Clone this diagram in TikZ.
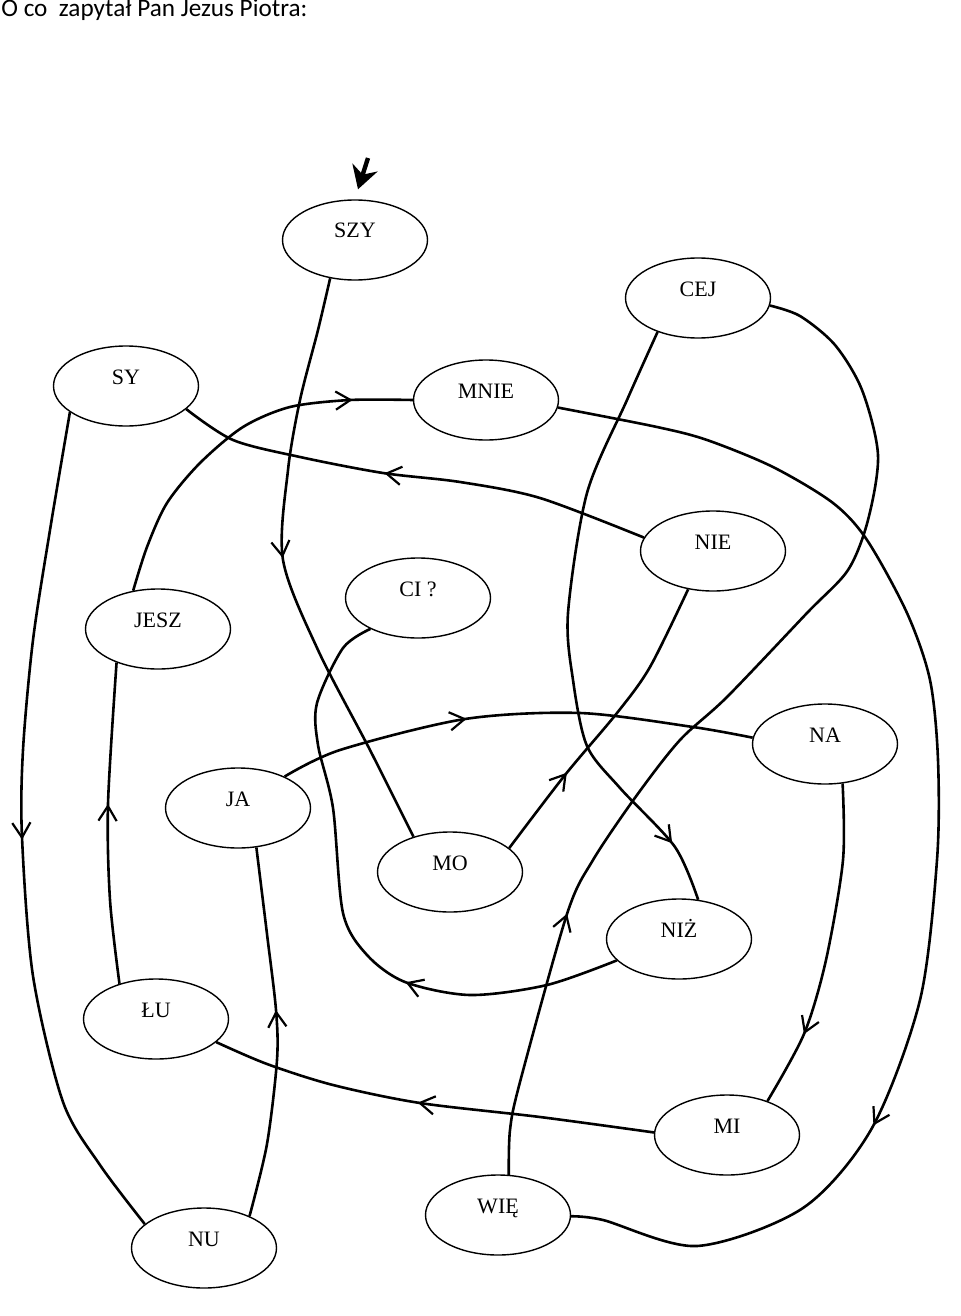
\documentclass[tikz,border=0pt]{standalone}
\usepackage{fontspec}
\setmainfont{Liberation Serif}
\newfontfamily\titlefont{Carlito}
\usetikzlibrary{arrows.meta,decorations.markings,shapes.geometric}
\tikzset{
    every node/.style={font=\fontsize{11}{13}\selectfont},
    syl/.style={ellipse,draw,line width=0.7pt,minimum width=72.5pt,minimum height=40pt,
        inner sep=0pt,text height=6pt,text depth=8pt},
    wire/.style={line width=1.3pt},
    midarrow/.style={postaction={decorate},decoration={markings,
        mark=at position #1 with {\arrow{Straight Barb[length=2.6mm,width=3.2mm,line width=1.1pt]}}}},
    startarrow/.style={line width=2.2pt,-{Stealth[length=4mm,width=4.6mm]}}
}
\begin{document}
\begin{tikzpicture}[x=0.5pt,y=-0.5pt]
\useasboundingbox (0,0) rectangle (960,1316);
\node[anchor=base west,inner sep=0pt,font=\titlefont\fontsize{12.6}{14}\selectfont] (title) at (1,17)
    {O co~ zapytał Pan Jezus Piotra:};

% syllables
\node[syl] (szy) at (355,240) {SZY};
\node[syl] (cej) at (698,298) {CEJ};
\node[syl] (sy) at (126,386) {SY};
\node[syl] (mnie) at (486,400) {MNIE};
\node[syl] (nie) at (713,551) {NIE};
\node[syl] (ci) at (418,598) {CI ?};
\node[syl] (jesz) at (158,629) {JESZ};
\node[syl] (na) at (825,744) {NA};
\node[syl] (ja) at (238,808) {JA};
\node[syl] (mo) at (450,872) {MO};
\node[syl] (niz) at (679,939) {NIŻ};
\node[syl] (lu) at (156,1019) {ŁU};
\node[syl] (mi) at (727,1135) {MI};
\node[syl] (wie) at (498,1215) {WIĘ};
\node[syl] (nu) at (204,1248) {NU};

% start
\coordinate (entry) at (368,158);
\draw[startarrow] (entry) -- ([xshift=1.5pt,yshift=5pt]szy.north);

% the way through the maze
\draw[wire,midarrow=0.48] plot[smooth] coordinates {(szy.-123) (318,330) (300,400) (288,470) (283,560) (318,650) (370,750) (mo.136)};
\draw[wire,midarrow=0.30] plot[smooth] coordinates {(mo.22) (565,775) (617,713) (650,667) (nie.-123)};
\draw[wire,midarrow=0.56] plot[smooth] coordinates {(nie.169) (540,498) (460,482) (383,473) (300,457) (233,440) (sy.-21)};
\draw[wire,midarrow=0.51] plot[smooth] coordinates {(sy.-155) (50,530) (33,640) (23,750) (22,837) (33,976) (63,1102) (100,1165) (nu.158)};
\draw[wire,midarrow=0.56] plot[smooth] coordinates {(nu.35) (267,1144) (277,1060) (276,1010) (267,934) (ja.-65)};
\draw[wire,midarrow=0.40] plot[smooth] coordinates {(ja.34) (340,750) (465,719) (580,713) (693,727) (na.175)};
\draw[wire,midarrow=0.77] plot[smooth] coordinates {(na.-66) (843,860) (826,960) (804,1034) (mi.40)};
\draw[wire,midarrow=0.53] plot[smooth] coordinates {(mi.178) (540,1117) (420,1103) (333,1085) (267,1064) (lu.-21)};
\draw[wire,midarrow=0.56] plot[smooth] coordinates {(lu.136) (110,900) (108,804) (jesz.-141)};
\draw[wire,midarrow=0.84] plot[smooth] coordinates {(jesz.123) (147,547) (167,503) (200,463) (243,427) (290,407) (350,400) (mnie.180)};
\draw[wire,midarrow=0.73] plot[smooth] coordinates {(mnie.-6) (657,427) (707,440) (773,467) (833,503) (867,540) (907,613) (930,680) (938,760) (937,860) (920,1000) (872,1128) (803,1208) (697,1246) (603,1220) (wie.-1)};
\draw[wire,midarrow=0.26] plot[smooth] coordinates {(wie.75) (510,1130) (520,1082) (567,914) (593,860) (637,795) (680,740) (727,697) (807,613) (848,570) (868,520) (878,455) (862,390) (835,345) (800,316) (cej.-6)};
\draw[wire,midarrow=0.90] plot[smooth] coordinates {(cej.-140) (627,400) (587,493) (568,613) (573,680) (587,746) (620,788) (675,847) (niz.64)};
\draw[wire,midarrow=0.35] plot[smooth] coordinates {(niz.-161) (547,985) (470,995) (405,982) (367,955) (343,913) (333,808) (318,745) (317,703) (343,648) (ci.-147)};
\end{tikzpicture}
\end{document}
